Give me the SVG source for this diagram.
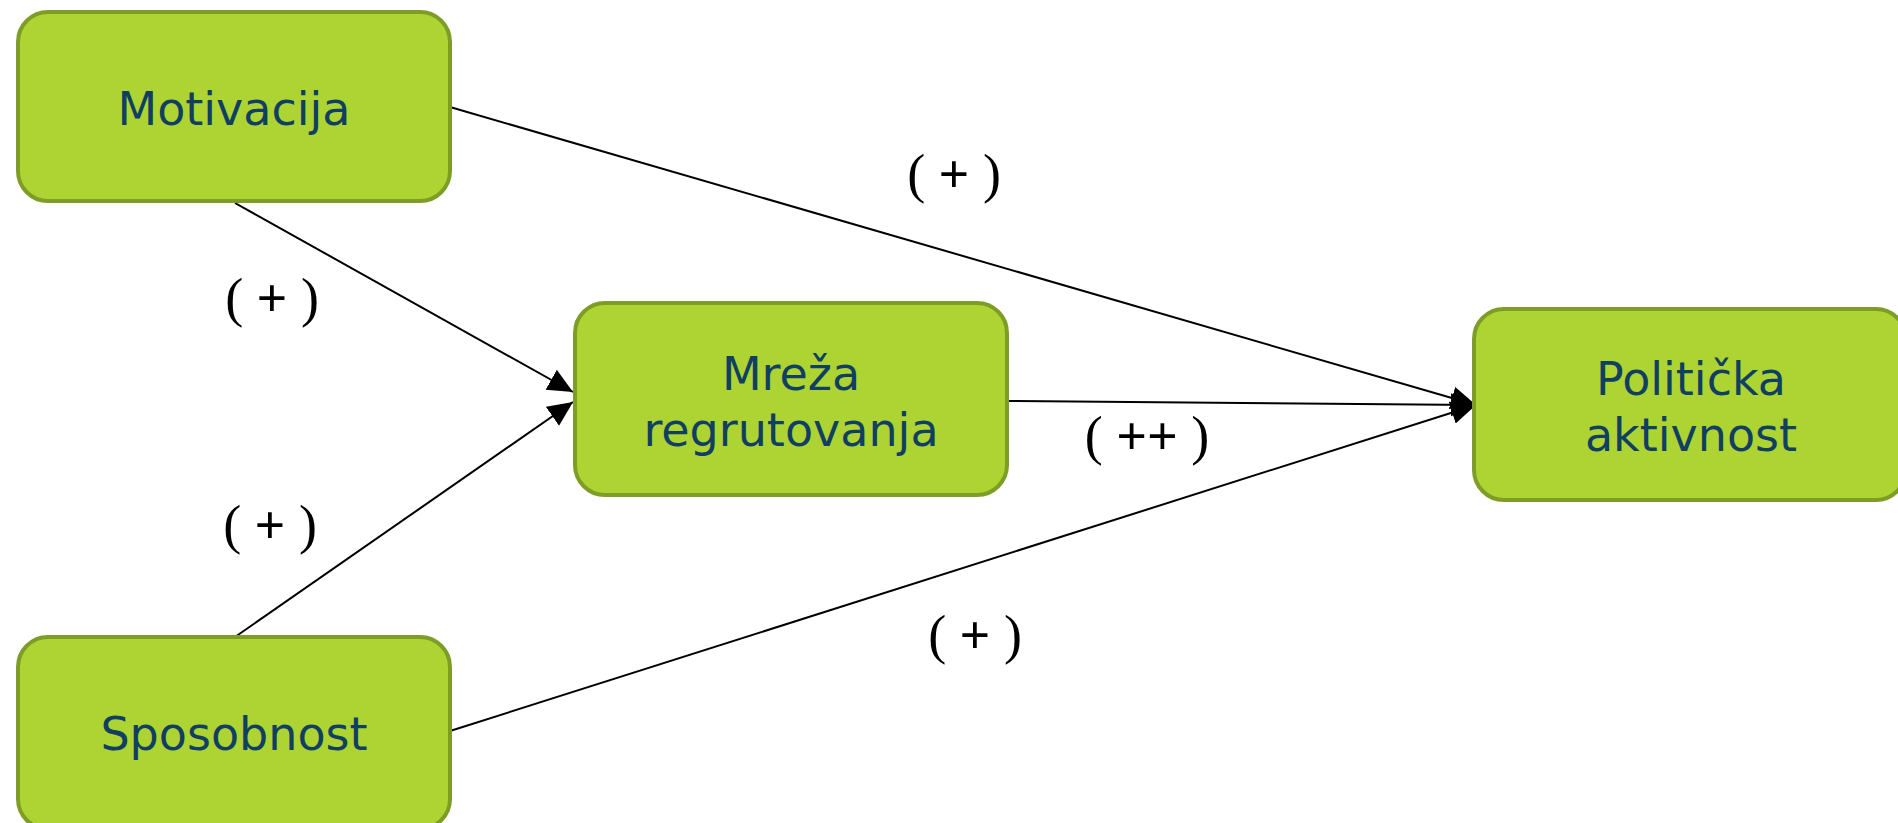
<svg xmlns="http://www.w3.org/2000/svg" width="1898" height="823" viewBox="0 0 1898 823">
  <style>
    .box { fill: #add433; stroke: #7e9d26; stroke-width: 4; }
    .ntext { font-family: "DejaVu Sans", "Liberation Sans", sans-serif; font-size: 46px; fill: #103f61; text-anchor: middle; }
    .conn { stroke: #000; stroke-width: 2; fill: none; marker-end: url(#arrow); }
    .lbl { font-family: "Liberation Serif", "Times New Roman", serif; font-size: 54px; fill: #000; text-anchor: middle; }
    .pl { font-weight: bold; }
  </style>
  <defs>
    <marker id="arrow" markerUnits="userSpaceOnUse" markerWidth="26" markerHeight="24" refX="25" refY="11.5" orient="auto">
      <path d="M0,0 L25,11.5 L0,23 z" fill="#000"/>
    </marker>
  </defs>
  <rect width="1898" height="823" fill="#fff"/>

  <g id="connectors">
    <line class="conn" x1="450" y1="107" x2="1476" y2="405"/>
    <line class="conn" x1="235" y1="203" x2="573" y2="392"/>
    <line class="conn" x1="235" y1="637" x2="573" y2="402"/>
    <line class="conn" x1="1008" y1="401" x2="1476" y2="405"/>
    <line class="conn" x1="450" y1="731" x2="1476" y2="405"/>
  </g>

  <g id="node-motivacija">
    <rect class="box" x="18" y="12" width="432" height="189" rx="30" ry="30"/>
    <text class="ntext" x="234" y="125">Motivacija</text>
  </g>
  <g id="node-mreza">
    <rect class="box" x="575" y="303" width="432" height="192" rx="30" ry="30"/>
    <text class="ntext" x="791" y="390">Mreža</text>
    <text class="ntext" x="791" y="446">regrutovanja</text>
  </g>
  <g id="node-politicka">
    <rect class="box" x="1474" y="309" width="432" height="191" rx="30" ry="30"/>
    <text class="ntext" x="1691" y="395">Politička</text>
    <text class="ntext" x="1691" y="451">aktivnost</text>
  </g>
  <g id="node-sposobnost">
    <rect class="box" x="18" y="637" width="432" height="192" rx="30" ry="30"/>
    <text class="ntext" x="234" y="750">Sposobnost</text>
  </g>

  <g id="labels">
    <text class="lbl" x="954" y="192">( <tspan class="pl">+</tspan> )</text>
    <text class="lbl" x="272" y="316">( <tspan class="pl">+</tspan> )</text>
    <text class="lbl" x="270" y="543">( <tspan class="pl">+</tspan> )</text>
    <text class="lbl" x="1147" y="454">( <tspan class="pl">++</tspan> )</text>
    <text class="lbl" x="975" y="653">( <tspan class="pl">+</tspan> )</text>
  </g>
</svg>
